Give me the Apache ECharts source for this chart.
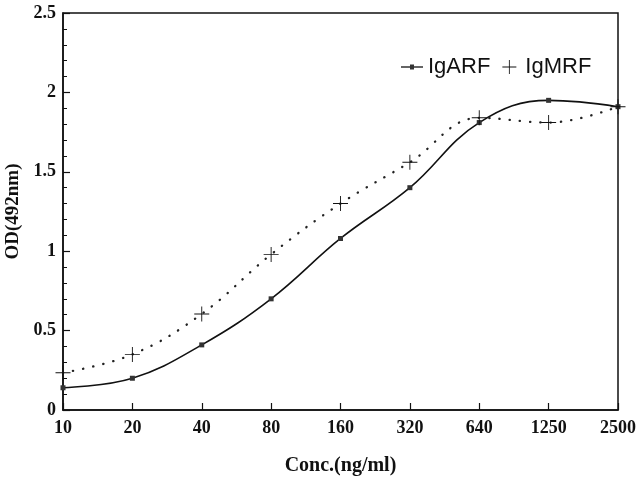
<!DOCTYPE html>
<html>
<head>
<meta charset="utf-8">
<script src="https://cdn.jsdelivr.net/npm/echarts@6/dist/echarts.min.js"></script>
<style>html,body{margin:0;padding:0;background:#fff;}#c{width:638px;height:477px;}</style>
</head>
<body>
<div id="c"></div>
<script>
const categories = ['10', '20', '40', '80', '160', '320', '640', '1250', '2500'];
const igARF = [0.14, 0.20, 0.41, 0.70, 1.08, 1.40, 1.81, 1.95, 1.91];
const igMRF = [0.235, 0.35, 0.605, 0.98, 1.30, 1.56, 1.84, 1.81, 1.91];

const plusPath = 'path://M0,9.4H20V10.6H0Z M9.4,0H10.6V20H9.4Z';
const lineDotIcon = 'path://M0,9.2H22V10.8H0Z M9,7.5H13V12.5H9Z';
const serif = '"Liberation Serif", "Times New Roman", serif';

const chart = echarts.init(document.getElementById('c'), null, {renderer: 'canvas'});
chart.setOption({
  backgroundColor: '#fff',
  animation: false,
  grid: {left: 63, right: 20, top: 13, bottom: 67, show: true, borderColor: '#111', borderWidth: 1.5,
         backgroundColor: 'transparent', containLabel: false, outerBoundsMode: 'none'},
  legend: {
    left: 396, top: 51,
    itemWidth: 22, itemHeight: 14, itemGap: 12,
    textStyle: {fontFamily: '"Liberation Sans", Arial, sans-serif', fontSize: 22, color: '#111'},
    data: [{name: 'IgARF', icon: lineDotIcon}, {name: 'IgMRF', icon: plusPath}]
  },
  xAxis: {
    type: 'category', data: categories, boundaryGap: false,
    name: 'Conc.(ng/ml)', nameLocation: 'middle', nameGap: 46,
    nameTextStyle: {fontFamily: serif, fontWeight: 'bold', fontSize: 20, color: '#111'},
    axisLine: {lineStyle: {color: '#111', width: 1.5}},
    axisTick: {inside: true, length: 7, lineStyle: {color: '#111', width: 1.2}},
    axisLabel: {fontFamily: serif, fontWeight: 'bold', fontSize: 18, color: '#111', margin: 9},
    splitLine: {show: false}
  },
  yAxis: {
    type: 'value', min: 0, max: 2.5, interval: 0.5,
    name: 'OD(492nm)', nameLocation: 'middle', nameGap: 38,
    nameTextStyle: {fontFamily: serif, fontWeight: 'bold', fontSize: 19, color: '#111'},
    axisLine: {show: true, lineStyle: {color: '#111', width: 1.5}},
    axisTick: {show: true, inside: true, length: 7, lineStyle: {color: '#111', width: 1.2}},
    minorTick: {show: true, splitNumber: 5, length: 4, lineStyle: {color: '#111', width: 1}},
    axisLabel: {fontFamily: serif, fontWeight: 'bold', fontSize: 18, color: '#111', margin: 7},
    splitLine: {show: false}
  },
  series: [
    {
      name: 'IgARF', type: 'line', data: igARF, smooth: 0.4,
      symbol: 'rect', symbolSize: 5,
      itemStyle: {color: '#333'},
      lineStyle: {color: '#111', width: 1.6}
    },
    {
      name: 'IgMRF', type: 'line', data: igMRF, smooth: 0.4,
      symbol: plusPath, symbolSize: 15,
      itemStyle: {color: '#111'},
      lineStyle: {color: '#222', width: 2.3, type: [0.3, 10], cap: 'round'}
    }
  ]
});
</script>
</body>
</html>
